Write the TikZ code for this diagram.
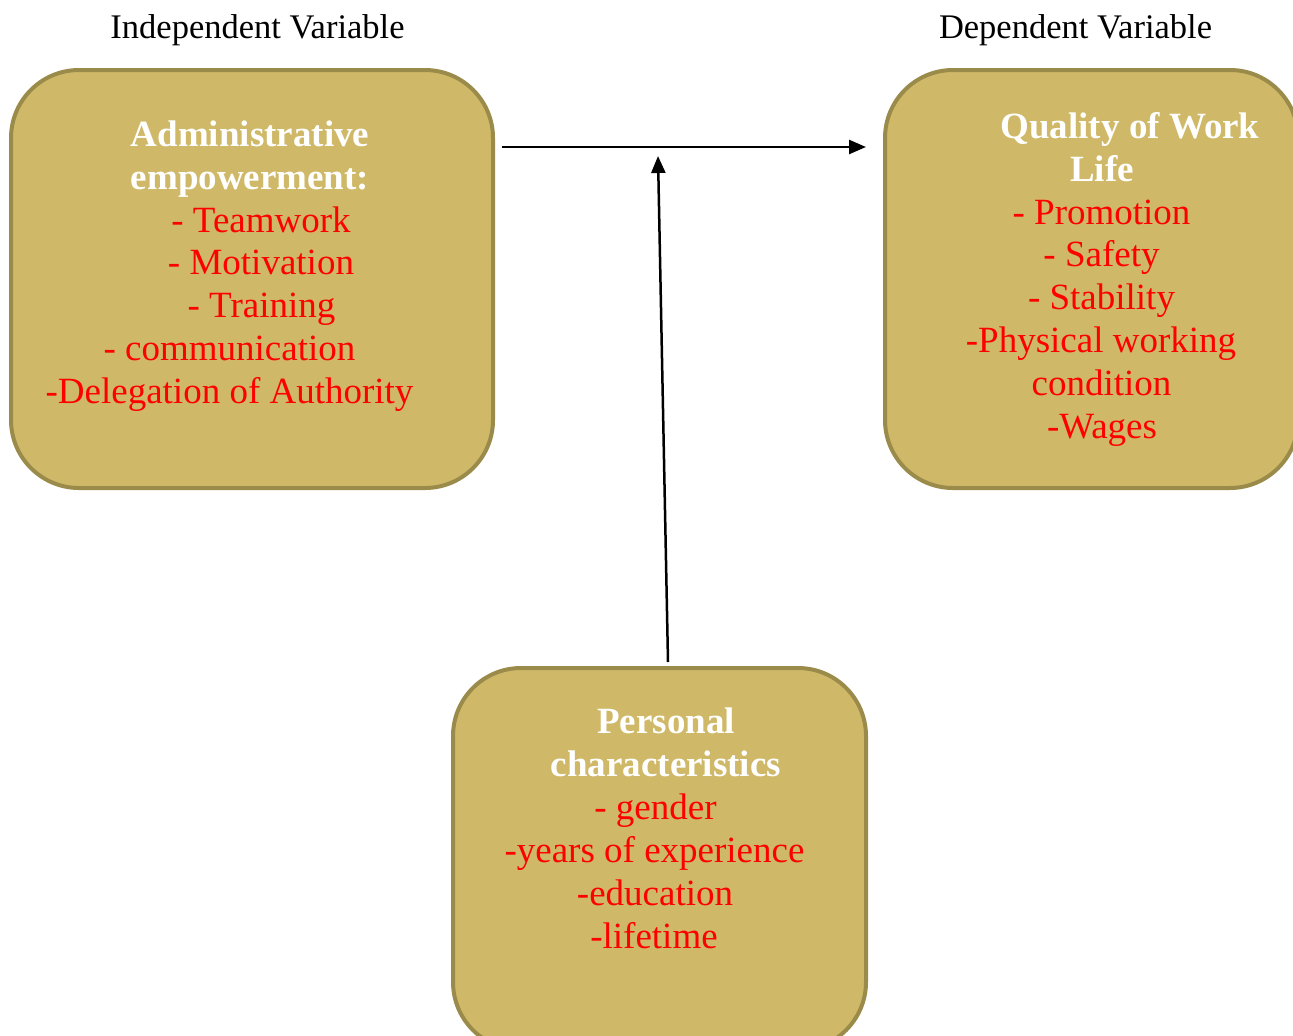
\documentclass[tikz,border=0pt]{standalone}
\usepackage{fontspec}
\setmainfont{Liberation Serif}
\usetikzlibrary{arrows.meta}
\definecolor{boxfill}{HTML}{CFB968}
\definecolor{boxedge}{HTML}{9B8B4B}
\definecolor{itemred}{HTML}{FF0000}
\begin{document}
\begin{tikzpicture}[x=1pt,y=-1pt,
  varbox/.style={draw=boxedge,fill=boxfill,line width=4pt,rounded corners=68pt,inner sep=0pt},
  head/.style={anchor=base,font=\fontsize{34.5}{40}\selectfont,text=black,inner sep=0pt},
  ttl/.style={anchor=base,font=\fontsize{37}{43}\selectfont\bfseries,text=white,inner sep=0pt},
  itm/.style={anchor=base,font=\fontsize{37}{43}\selectfont,text=itemred,inner sep=0pt},
  link/.style={line width=2.5pt,-{Triangle[length=17pt,width=14pt]}}]
\useasboundingbox (0,0) rectangle (1293,1036);
\begin{scope}
\clip (0,0) rectangle (1293,1036);
% boxes
\node[varbox,minimum width=482pt,minimum height=418pt] (iv) at (252,279) {};
\node[varbox,minimum width=413pt,minimum height=418pt] (dv) at (1091.5,279) {};
\node[varbox,minimum width=413pt,minimum height=382pt] (pc) at (659.5,859) {};
\end{scope}
% headers
\node[head] (ivh) at (257.5,38) {Independent Variable};
\node[head] (dvh) at (1075.5,38) {Dependent Variable};
% independent variable text
\node[ttl] (iv1) at (250,146) {Administrative};
\node[ttl] (iv2) at (250,189) {empowerment:};
\node[itm] (iv3) at (261,232) {- Teamwork};
\node[itm] (iv4) at (261,274.5) {- Motivation};
\node[itm] (iv5) at (261.5,317) {- Training};
\node[itm] (iv6) at (229.5,360) {- communication};
\node[itm] (iv7) at (229.5,403) {-Delegation of Authority};
% dependent variable text
\node[ttl] (dv1) at (1130,138) {Quality of Work};
\node[ttl] (dv2) at (1102,181) {Life};
\node[itm] (dv3) at (1101.5,224) {- Promotion};
\node[itm] (dv4) at (1101.5,266) {- Safety};
\node[itm] (dv5) at (1101.5,309) {- Stability};
\node[itm] (dv6) at (1101,352) {-Physical working};
\node[itm] (dv7) at (1101.5,395) {condition};
\node[itm] (dv8) at (1102,438) {-Wages};
% personal characteristics text
\node[ttl] (pc1) at (666,733) {Personal};
\node[ttl] (pc2) at (666,776) {characteristics};
\node[itm] (pc3) at (655.5,819) {- gender};
\node[itm] (pc4) at (654.5,862) {-years of experience};
\node[itm] (pc5) at (655,905) {-education};
\node[itm] (pc6) at (654,948) {-lifetime};
% connectors
\coordinate (hstart) at (502,147);
\coordinate (hend) at (866,147);
\coordinate (vstart) at (668,662);
\coordinate (vend) at (658,156);
\draw[link] (hstart) -- (hend);
\draw[link] (vstart) -- (vend);
\end{tikzpicture}
\end{document}
